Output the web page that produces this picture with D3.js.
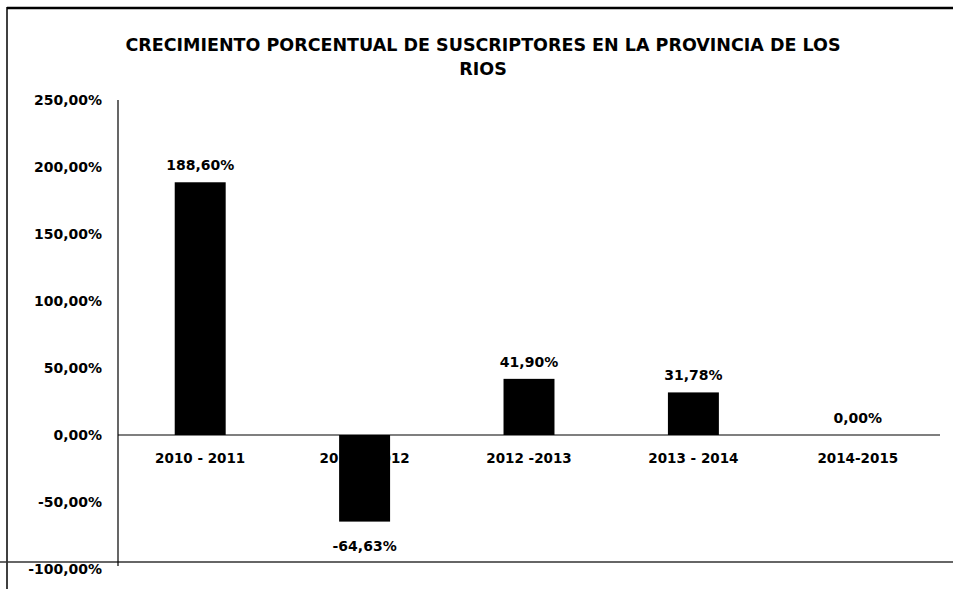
<!DOCTYPE html>
<html>
<head>
<meta charset="utf-8">
<script src="https://cdn.jsdelivr.net/npm/d3@7"></script>
<style>
  body { margin: 0; background: #fff; }
  text { font-family: "DejaVu Sans", sans-serif; font-weight: bold; fill: #000; }
</style>
</head>
<body>
<div id="chart"></div>
<script>
var width = 953, height = 589
var margin = {left: 118, right: 13, top: 100, zero: 435}

var periods = ["2010 - 2011", "2011 - 2012", "2012 -2013", "2013 - 2014", "2014-2015"]
var growth = [188.60, -64.63, 41.90, 31.78, 0.00]
var yTicks = [250, 200, 150, 100, 50, 0, -50, -100]
var title = ["CRECIMIENTO PORCENTUAL DE SUSCRIPTORES EN LA PROVINCIA DE LOS", "RIOS"]

var locale = d3.formatLocale({decimal: ",", thousands: ".", grouping: [3], currency: ["", ""], minus: "-"})
var fmt = locale.format(".2f")

var svg = d3.select("#chart").append("svg")
    .attr("width", width)
    .attr("height", height)

// frame lines
svg.append("line").attr("x1", 7).attr("x2", width).attr("y1", 8).attr("y2", 8)
    .attr("stroke", "#000").attr("stroke-width", 2.5)
svg.append("line").attr("x1", 7).attr("x2", 7).attr("y1", 7).attr("y2", height)
    .attr("stroke", "#000").attr("stroke-width", 1.5)
svg.append("line").attr("x1", 0).attr("x2", width).attr("y1", 562).attr("y2", 562)
    .attr("stroke", "#333").attr("stroke-width", 1.5)

// title
svg.selectAll(".title")
    .data(title)
    .enter()
    .append("text")
        .attr("x", 483)
        .attr("y", function(d, i) { return 51 + i * 24 })
        .attr("text-anchor", "middle")
        .style("font-size", "17.5px")
        .text(d => d)

var yScale = d3.scaleLinear()
    .domain([-100, 250])
    .range([margin.zero + 134, margin.top])

var xScale = d3.scaleBand()
    .domain(periods)
    .range([margin.left, 940])
    .paddingInner(0.69)
    .paddingOuter(0.345)

// y axis line and labels
svg.append("line")
    .attr("x1", margin.left).attr("x2", margin.left)
    .attr("y1", yScale(250)).attr("y2", 566)
    .attr("stroke", "#000").attr("stroke-width", 1.2)

svg.selectAll(".ytick")
    .data(yTicks)
    .enter()
    .append("text")
        .attr("x", 102)
        .attr("y", d => yScale(d) + 5)
        .attr("text-anchor", "end")
        .style("font-size", "14px")
        .text(d => fmt(d) + "%")

// category labels (drawn under the bars)
svg.selectAll(".xlabel")
    .data(periods)
    .enter()
    .append("text")
        .attr("x", d => xScale(d) + xScale.bandwidth() / 2)
        .attr("y", 463)
        .attr("text-anchor", "middle")
        .style("font-size", "13.5px")
        .text(d => d)

// bars
svg.selectAll("rect")
    .data(growth)
    .enter()
    .append("rect")
        .attr("x", (d, i) => xScale(periods[i]))
        .attr("y", d => yScale(Math.max(0, d)))
        .attr("width", xScale.bandwidth())
        .attr("height", d => Math.abs(yScale(d) - yScale(0)))
        .attr("fill", "#000")

// zero line
svg.append("line")
    .attr("x1", margin.left).attr("x2", 940)
    .attr("y1", yScale(0)).attr("y2", yScale(0))
    .attr("stroke", "#000").attr("stroke-width", 1.2)

// value labels
svg.selectAll(".vlabel")
    .data(growth)
    .enter()
    .append("text")
        .attr("x", (d, i) => xScale(periods[i]) + xScale.bandwidth() / 2)
        .attr("y", d => d < 0 ? yScale(d) + 29 : yScale(d) - 12)
        .attr("text-anchor", "middle")
        .style("font-size", "14px")
        .text(d => fmt(d) + "%")
</script>
</body>
</html>
